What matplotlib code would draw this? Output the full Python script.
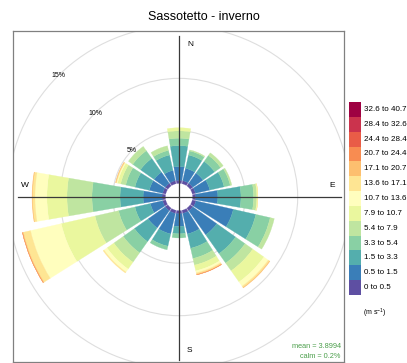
import matplotlib
matplotlib.use("Agg")
import matplotlib.pyplot as plt
import numpy as np
from matplotlib.patches import Wedge, Circle, Rectangle

plt.rcParams['font.family'] = ['Liberation Sans', 'DejaVu Sans']
plt.rcParams['mathtext.default'] = 'regular'

# sectors, clockwise from north
directions = np.arange(0, 360, 22.5)
speed_bins = ["0 to 0.5", "0.5 to 1.5", "1.5 to 3.3", "3.3 to 5.4", "5.4 to 7.9",
              "7.9 to 10.7", "10.7 to 13.6", "13.6 to 17.1", "17.1 to 20.7",
              "20.7 to 24.4", "24.4 to 28.4", "28.4 to 32.6", "32.6 to 40.7"]

# frequency (%) in each speed bin, one list per sector
f_N = [0.3, 1.3, 2.0, 0.7, 0.7, 0.3]
f_NNE = [0.3, 1.2, 1.3, 0.4, 0.1]
f_NE = [0.3, 1.2, 1.35, 0.7, 0.3]
f_ENE = [0.3, 1.4, 1.4, 0.6, 0.15]
f_E = [0.3, 2.1, 2.2, 1.2, 0.3, 0.07, 0.02, 0.01]
f_ESE = [0.35, 3.65, 2.2, 1.4, 0.4]
f_SE = [0.3, 2.8, 2.2, 1.1, 0.9, 1.3, 0.5, 0.15, 0.05]
f_SSE = [0.3, 2.0, 1.4, 1.0, 0.65, 0.55, 0.2, 0.12, 0.06, 0.02]
f_S = [0.3, 1.2, 0.7, 0.4]
f_SSW = [0.3, 2.0, 1.2, 0.35]
f_SW = [0.3, 2.0, 1.6, 1.3, 1.1, 0.8, 0.35, 0.1]
f_WSW = [0.3, 1.2, 1.5, 1.6, 2.3, 3.3, 3.0, 0.7, 0.08, 0.02]
f_W = [0.32, 1.8, 2.2, 2.67, 2.38, 1.91, 1.14, 0.24, 0.04]
f_WNW = [0.3, 1.3, 1.4, 0.9, 0.5, 0.3, 0.1, 0.06, 0.04]
f_NW = [0.3, 1.3, 1.6, 0.9, 0.5]
f_NNW = [0.3, 1.0, 1.5, 0.45, 0.45]

mean_ws = 3.8994
calm_pct = 0.2
grid_pct = [5, 10, 15]

freq = [f_N, f_NNE, f_NE, f_ENE, f_E, f_ESE, f_SE, f_SSE,
        f_S, f_SSW, f_SW, f_WSW, f_W, f_WNW, f_NW, f_NNW]
cols = plt.get_cmap('Spectral_r')(np.linspace(0, 1, len(speed_bins)))

hole = 1.3      # radius of the empty centre, in %
half = 9.75     # half width of a sector, degrees

fig = plt.figure(figsize=(4.07, 3.63), dpi=100)
ax = fig.add_axes([13 / 407, 1 / 363, 331 / 407, 331 / 363])
ax.set_xlim(-15.81, 15.71)
ax.set_ylim(-15.71, 15.81)
ax.set_xticks([])
ax.set_yticks([])
for s in ax.spines.values():
    s.set_color('#808080')
    s.set_linewidth(0.9)

for p in grid_pct:
    r = hole + p
    ax.add_patch(Circle((0, 0), r, fill=False, ec='#dedede', lw=0.8, zorder=1))
    a = np.deg2rad(135)
    ax.text(r * np.cos(a), r * np.sin(a), f"{p}%", fontsize=5,
            ha='center', va='center', zorder=4)

for d, f in zip(directions, freq):
    cum = hole + np.concatenate([[0], np.cumsum(f)])
    t = 90 - d
    for i in range(len(f)):
        ax.add_patch(Wedge((0, 0), cum[i + 1], t - half, t + half,
                           width=cum[i + 1] - cum[i], fc=cols[i], ec=cols[i],
                           lw=0.2, zorder=2))

ax.plot([0, 0], [-15.5, 15.33], color='#3a3a3a', lw=0.9, zorder=3)
ax.plot([-15.33, 15.43], [0, 0], color='#3a3a3a', lw=0.9, zorder=3)

ax.text(1.05, 14.5, 'N', fontsize=6, ha='center', va='center')
ax.text(1.0, -14.57, 'S', fontsize=6, ha='center', va='center')
ax.text(14.57, 1.05, 'E', fontsize=6, ha='center', va='center')
ax.text(-14.67, 1.05, 'W', fontsize=6, ha='center', va='center')

ax.text(15.4, -14.26, f"mean = {mean_ws}", fontsize=5.3, color='#4a9e4a',
        ha='right', va='center')
ax.text(15.4, -15.14, f"calm = {calm_pct}%", fontsize=5.3, color='#4a9e4a',
        ha='right', va='center')

fig.text(0.5, 1 - 17 / 363, 'Sassotetto - inverno', fontsize=9,
         ha='center', va='center')

# speed key
lax = fig.add_axes([349 / 407, (363 - 295) / 363, 58 / 407, 193 / 363])
lax.set_xlim(0, 58)
lax.set_ylim(0, len(speed_bins))
lax.axis('off')
for i, (lab, c) in enumerate(zip(speed_bins, cols)):
    lax.add_patch(Rectangle((0, i), 11.5, 1, fc=c, ec='none'))
    lax.text(14.5, i + 0.5, lab, fontsize=5.8, ha='left', va='center')

fig.text(363 / 407, 1 - 313 / 363, r'(m s$^{-1}$)', fontsize=5,
         ha='left', va='center')

fig.savefig('out.png', dpi=100)
